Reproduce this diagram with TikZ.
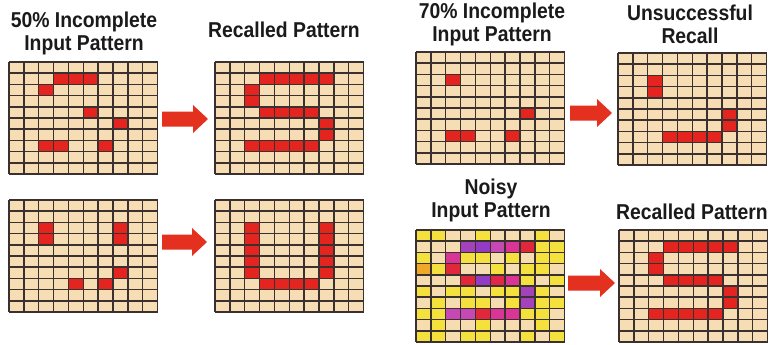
\documentclass[tikz,border=0pt]{standalone}
\usepackage{fontspec}
\setmainfont{Liberation Sans}
\newfontfamily\titlefont{Liberation Sans}[FakeStretch=0.9]
\definecolor{cellbg}{HTML}{F6DDB4}
\definecolor{cellred}{HTML}{E3241F}
\definecolor{arrowred}{HTML}{E3301F}
\definecolor{gridink}{HTML}{3A3030}
\definecolor{titleink}{HTML}{1A1A1A}
% palette of the noisy pattern
\definecolor{nY}{HTML}{F5E13E}
\definecolor{nP}{HTML}{F6DDB0}
\definecolor{nO}{HTML}{F0A828}
\definecolor{nR}{HTML}{E0283A}
\definecolor{nC}{HTML}{E22848}
\definecolor{nV}{HTML}{923CC4}
\definecolor{nU}{HTML}{A442BC}
\definecolor{nM}{HTML}{C648B4}
\definecolor{nK}{HTML}{DA3496}
\newcommand\cw{14.85}
\newcommand\ch{11.2}
\newcommand\gridlines{%
  \foreach \i in {0,...,10} \draw[gridline] (\i*\cw,0) -- (\i*\cw,112);
  \foreach \j in {0,...,10} \draw[gridline] (0,\j*\ch) -- (148.5,\j*\ch);
}
% #1 name, #2/#3 top-left corner, #4 list of lit cells row/col
\newcommand\patterngrid[4]{%
  \begin{scope}[shift={(#2,#3)}]
    \node[gridframe] (#1) at (74.25,56) {};
    \fill[cellbg] (0,0) rectangle (148.5,112);
    \foreach \r/\c in {#4} \fill[cellred] (\c*\cw,\r*\ch) rectangle ++(\cw,\ch);
    \gridlines
  \end{scope}}
% #1 name, #2/#3 top-left corner, #4 rows of cell colours
\newcommand\noisygrid[4]{%
  \begin{scope}[shift={(#2,#3)}]
    \node[gridframe] (#1) at (74.25,56) {};
    \foreach \rowcols [count=\r from 0] in {#4}
      \foreach \k [count=\c from 0] in \rowcols
        \fill[fill=n\k] (\c*\cw,\r*\ch) rectangle ++(\cw,\ch);
    \gridlines
  \end{scope}}
% #1 name, #2 tail x, #3 tip x, #4 centre y
\newcommand\blockarrow[4]{%
  \coordinate (#1) at ({(#2+#3)/2},#4);
  \fill[arrowred] (#2,#4-7.5) -- (#3-15,#4-7.5) -- (#3-15,#4-14) -- (#3,#4)
     -- (#3-15,#4+14) -- (#3-15,#4+7.5) -- (#2,#4+7.5) -- cycle;
}
\begin{document}
\begin{tikzpicture}[x=1pt,y=-1pt,
  gridline/.style={draw=gridink,line width=1.45pt},
  gridframe/.style={inner sep=0pt,minimum width=148.5pt,minimum height=112pt,draw=none},
  title/.style={font=\titlefont\fontsize{21.5}{23}\selectfont\bfseries,text=titleink,align=center,inner sep=0pt}]
\useasboundingbox[fill=white] (0,0) rectangle (771,345);

% titles
\node[title] (t1) at (84,33.5) {50\% Incomplete\\Input Pattern};
\node[title] (t2) at (284,30) {Recalled Pattern};
\node[title] (t3) at (492,24) {70\% Incomplete\\Input Pattern};
\node[title] (t4) at (690,24) {Unsuccessful\\Recall};
\node[title] (t5) at (491,200) {Noisy\\Input Pattern};
\node[title] (t6) at (692,212) {Recalled Pattern};

% left column: incomplete S and U and their recalls
\patterngrid{g1}{9}{62}{1/3,1/4,1/5,2/2,4/5,5/7,7/2,7/3,7/6}
\patterngrid{g2}{215}{62}{1/3,1/4,1/5,1/6,1/7,2/2,3/2,4/3,4/4,4/5,4/6,5/7,6/7,7/2,7/3,7/4,7/5,7/6}
\patterngrid{g3}{9}{200}{2/2,3/2,2/7,3/7,6/7,7/4,7/6}
\patterngrid{g4}{215}{200}{2/2,3/2,4/2,5/2,6/2,2/7,3/7,4/7,5/7,6/7,7/3,7/4,7/5,7/6}

% right column: 70% incomplete input and the failed recall
\patterngrid{g5}{416}{52}{2/2,5/7,7/2,7/3,7/6}
\patterngrid{g6}{618}{53}{2/2,3/2,5/7,6/7,7/3,7/4,7/5,7/6}

% noisy input and its recall
\noisygrid{g7}{416}{230}{
  {Y,Y,P,P,Y,P,P,P,Y,P},
  {P,P,P,U,V,M,K,R,Y,Y},
  {Y,P,K,Y,Y,P,Y,P,Y,Y},
  {O,Y,R,P,P,Y,P,Y,Y,P},
  {P,P,P,R,V,C,K,Y,P,Y},
  {Y,P,Y,Y,P,Y,Y,U,Y,P},
  {P,Y,P,Y,Y,P,Y,U,Y,Y},
  {Y,Y,M,M,R,K,K,Y,Y,P},
  {P,Y,P,P,Y,P,P,P,Y,P},
  {Y,Y,P,Y,Y,P,P,Y,P,Y}}
\patterngrid{g8}{619}{230}{1/3,1/4,1/5,1/6,1/7,2/2,3/2,4/3,4/4,4/5,4/6,5/7,6/7,7/2,7/3,7/4,7/5,7/6}

% arrows from input to recalled pattern
\blockarrow{a1}{162}{208}{119}
\blockarrow{a2}{162}{207}{242}
\blockarrow{a3}{570}{612}{113}
\blockarrow{a4}{568}{615}{283}
\end{tikzpicture}
\end{document}
